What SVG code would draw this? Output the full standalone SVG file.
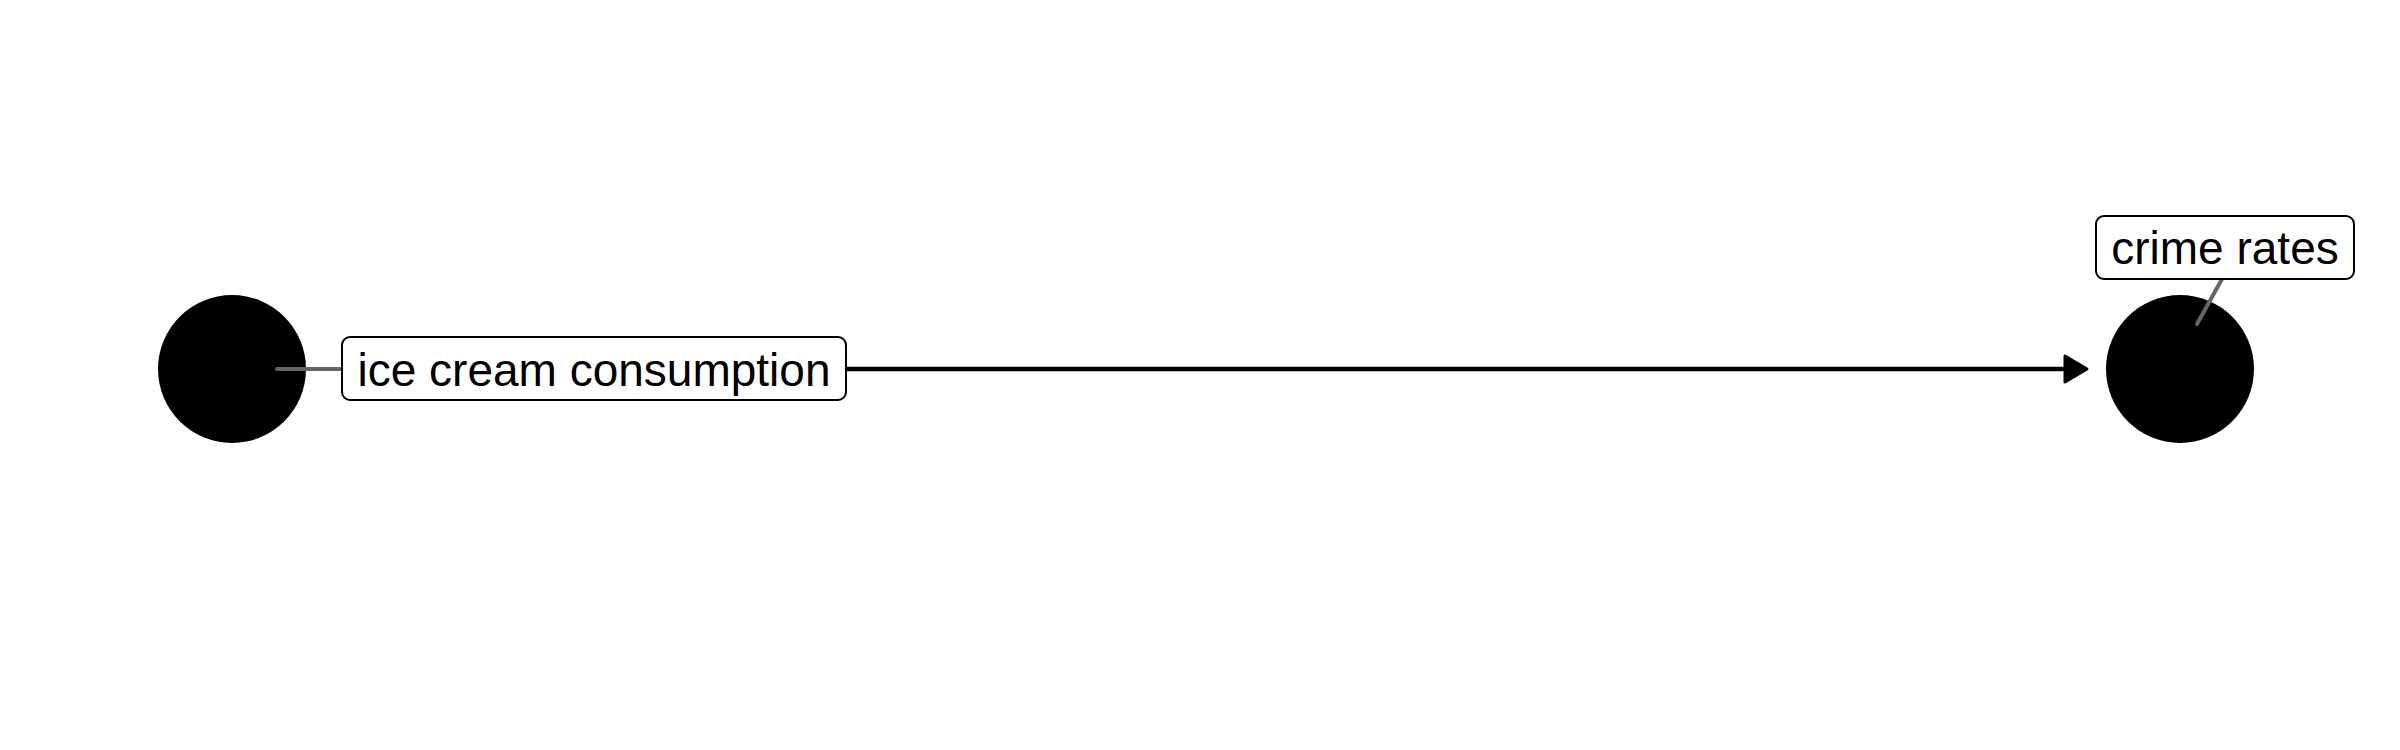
<svg xmlns="http://www.w3.org/2000/svg" width="2400" height="750" viewBox="0 0 2400 750">
<style>
.node{fill:#000}
.lbl{fill:#fff;stroke:#000;stroke-width:2}
.txt{font-family:"Liberation Sans",Arial,sans-serif;font-size:46px;fill:#000;text-anchor:middle}
.lead{stroke:#666;stroke-width:4;stroke-linecap:round;fill:none}
.edge{stroke:#000;stroke-width:4.5;fill:none}
</style>
<defs>
<marker id="arr" markerUnits="userSpaceOnUse" markerWidth="30" markerHeight="34" refX="3" refY="15" orient="auto">
<path d="M3,2 L25,15 L3,28 Z" fill="#000" stroke="#000" stroke-width="3" stroke-linejoin="round"/>
</marker>
</defs>
<rect width="2400" height="750" fill="#fff"/>
<g id="connectors">
<line class="edge" x1="846" y1="369" x2="2065" y2="369" marker-end="url(#arr)"/>
</g>
<g id="node-ice-cream">
<circle class="node" cx="232" cy="369" r="74"/>
<line class="lead" x1="277" y1="369" x2="342" y2="369"/>
<rect class="lbl" x="342" y="337" width="504" height="63" rx="8"/>
<text class="txt" x="594" y="386">ice cream consumption</text>
</g>
<g id="node-crime">
<circle class="node" cx="2180" cy="369" r="74"/>
<line class="lead" x1="2197" y1="324" x2="2222" y2="279"/>
<rect class="lbl" x="2096" y="216" width="258" height="63" rx="8"/>
<text class="txt" x="2225" y="264">crime rates</text>
</g>
</svg>
